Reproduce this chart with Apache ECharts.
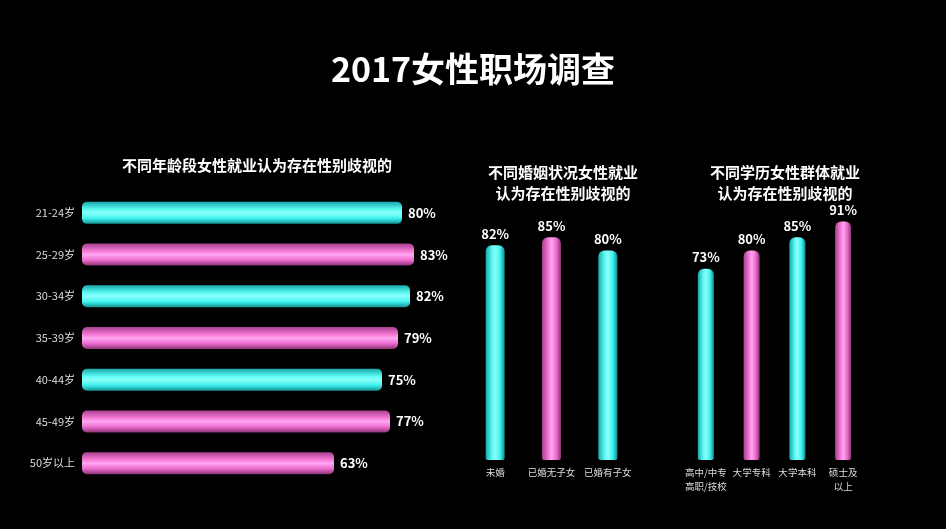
<!DOCTYPE html>
<html>
<head>
<meta charset="utf-8">
<script src="https://cdn.jsdelivr.net/npm/echarts@6/dist/echarts.min.js"></script>
<style>
html, body { margin: 0; padding: 0; background: #000; }
#main { width: 946px; height: 529px; }
</style>
</head>
<body>
<div id="main"></div>
<script>
var ageCats = ['21-24岁', '25-29岁', '30-34岁', '35-39岁', '40-44岁', '45-49岁', '50岁以上'];
var ageVals = [80, 83, 82, 79, 75, 77, 63];
var ageColors = ['c', 'p', 'c', 'p', 'c', 'p', 'p'];

var marryCats = ['未婚', '已婚无子女', '已婚有子女'];
var marryVals = [82, 85, 80];
var marryColors = ['c', 'p', 'c'];

var eduCats = ['高中/中专\n高职/技校', '大学专科', '大学本科', '硕士及\n以上'];
var eduVals = [73, 80, 85, 91];
var eduColors = ['c', 'p', 'c', 'p'];

var font = '"Noto Sans CJK SC", "Noto Sans", sans-serif';

function grad(kind, horizontal) {
    var stops = kind === 'c'
        ? [[0, '#17a9aa'], [0.35, '#5ffcf6'], [0.5, '#8dfffb'], [0.75, '#3ff2ee'], [1, '#138f92']]
        : [[0, '#a8408f'], [0.35, '#f77ad8'], [0.5, '#ffa8f2'], [0.75, '#ee6ccf'], [1, '#8c3477']];
    return new echarts.graphic.LinearGradient(
        0, 0, horizontal ? 0 : 1, horizontal ? 1 : 0,
        stops.map(function (s) { return { offset: s[0], color: s[1] }; })
    );
}

function items(vals, kinds, horizontal) {
    return vals.map(function (v, i) {
        return { value: v, itemStyle: { color: grad(kinds[i], horizontal) } };
    });
}

var myChart = echarts.init(document.getElementById('main'));

var labelStyle = { color: '#fff', fontSize: 13, fontWeight: 'bold', fontFamily: font, formatter: '{c}%' };
var catLabel = { color: '#ddd', fontSize: 9.5, fontFamily: font, margin: 5, interval: 0, lineHeight: 14 };

option = {
    backgroundColor: '#000',
    title: [
        { text: '2017女性职场调查', left: 'center', top: 47,
          textStyle: { color: '#fff', fontSize: 34, fontWeight: 'bold', fontFamily: font } },
        { text: '不同年龄段女性就业认为存在性别歧视的', left: 252, textAlign: 'center', top: 153,
          textStyle: { color: '#fff', fontSize: 15, fontWeight: 'bold', fontFamily: font } },
        { text: '不同婚姻状况女性就业\n认为存在性别歧视的', left: 558, textAlign: 'center', top: 157,
          textStyle: { color: '#fff', fontSize: 15, fontWeight: 'bold', fontFamily: font, lineHeight: 21 } },
        { text: '不同学历女性群体就业\n认为存在性别歧视的', left: 780, textAlign: 'center', top: 157,
          textStyle: { color: '#fff', fontSize: 15, fontWeight: 'bold', fontFamily: font, lineHeight: 21 } }
    ],
    grid: [
        { left: 82, top: 192, width: 400, height: 292 },
        { left: 467, top: 198, width: 169, height: 262 },
        { left: 683, top: 198, width: 183, height: 262 }
    ],
    xAxis: [
        { gridIndex: 0, type: 'value', min: 0, max: 100, show: false },
        { gridIndex: 1, type: 'category', data: marryCats,
          axisLine: { show: false }, axisTick: { show: false }, axisLabel: catLabel },
        { gridIndex: 2, type: 'category', data: eduCats,
          axisLine: { show: false }, axisTick: { show: false }, axisLabel: catLabel }
    ],
    yAxis: [
        { gridIndex: 0, type: 'category', data: ageCats, inverse: true,
          axisLine: { show: false }, axisTick: { show: false },
          axisLabel: { color: '#ddd', fontSize: 11, fontFamily: font, margin: 7, interval: 0 } },
        { gridIndex: 1, type: 'value', min: 0, max: 100, show: false },
        { gridIndex: 2, type: 'value', min: 0, max: 100, show: false }
    ],
    series: [
        { type: 'bar', xAxisIndex: 0, yAxisIndex: 0, barWidth: 22,
          data: items(ageVals, ageColors, true),
          itemStyle: { borderRadius: 5 },
          label: Object.assign({ show: true, position: 'right', distance: 6 }, labelStyle) },
        { type: 'bar', xAxisIndex: 1, yAxisIndex: 1, barWidth: 19,
          data: items(marryVals, marryColors, false),
          itemStyle: { borderRadius: [6, 6, 2, 2] },
          label: Object.assign({ show: true, position: 'top', distance: 5 }, labelStyle) },
        { type: 'bar', xAxisIndex: 2, yAxisIndex: 2, barWidth: 16,
          data: items(eduVals, eduColors, false),
          itemStyle: { borderRadius: [6, 6, 2, 2] },
          label: Object.assign({ show: true, position: 'top', distance: 5 }, labelStyle) }
    ]
};

myChart.setOption(option, true);
</script>
</body>
</html>
